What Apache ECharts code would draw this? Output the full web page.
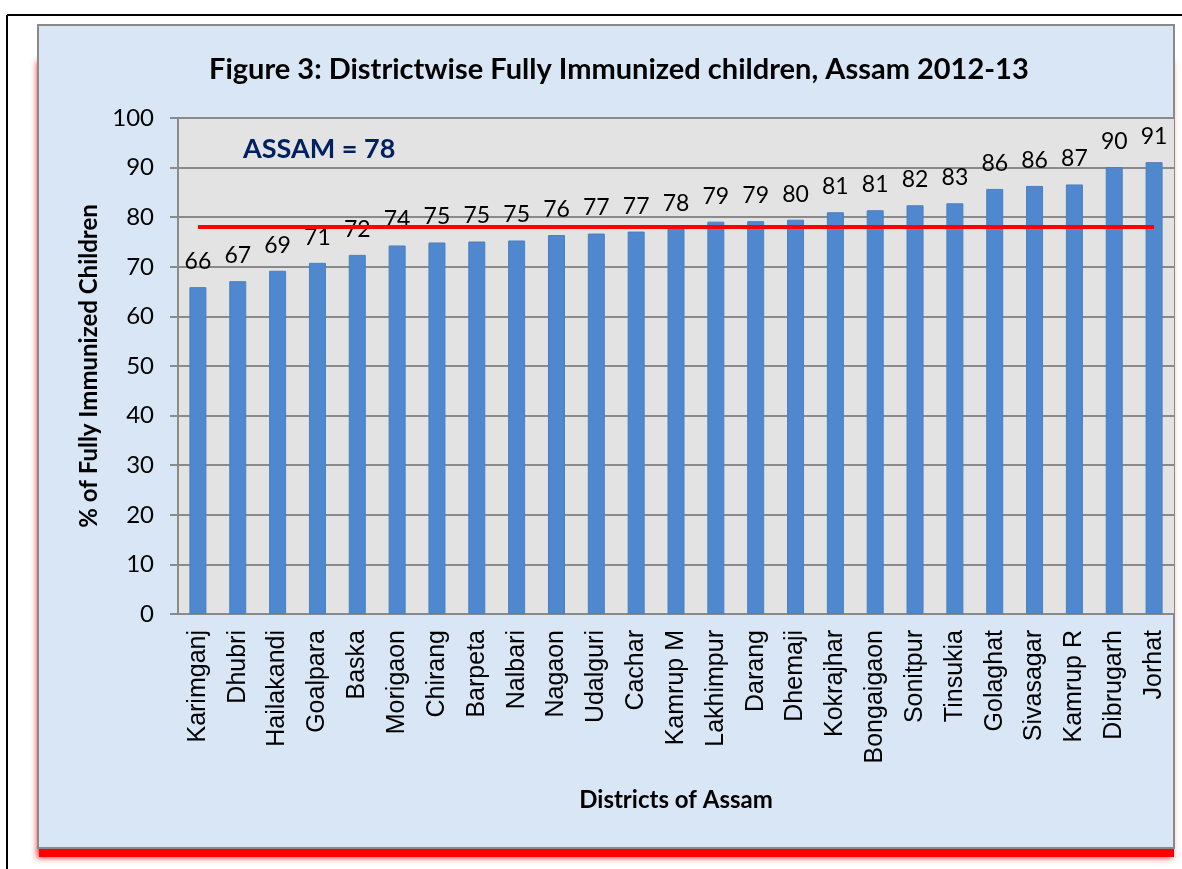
<!DOCTYPE html>
<html><head><meta charset="utf-8">
<script src="https://cdn.jsdelivr.net/npm/echarts@6/dist/echarts.min.js"></script>
<style>html,body{margin:0;padding:0;background:#ffffff}#c{width:1182px;height:869px}</style>
</head><body><div id="c"></div>
<script>
const districts = ['Karimganj','Dhubri','Hailakandi','Goalpara','Baska','Morigaon','Chirang','Barpeta','Nalbari','Nagaon','Udalguri','Cachar','Kamrup M','Lakhimpur','Darang','Dhemaji','Kokrajhar','Bongaigaon','Sonitpur','Tinsukia','Golaghat','Sivasagar','Kamrup R','Dibrugarh','Jorhat'];
const immunized = [65.9,67.1,69.2,70.8,72.4,74.3,74.9,75.1,75.3,76.4,76.7,77.1,77.7,79.1,79.2,79.5,81.0,81.4,82.4,82.8,85.7,86.3,86.6,90.1,91.1];
const assamAverage = 78;
const assamLine = districts.map(() => assamAverage);
const titleText = 'Figure 3: Districtwise Fully Immunized children, Assam 2012-13';
const yAxisTitle = '% of Fully Immunized Children';
const xAxisTitle = 'Districts of Assam';
const yMin = 0, yMax = 100, yStep = 10;

const calibri = 'Lato, "Liberation Sans", sans-serif';
const chart = echarts.init(document.getElementById('c'), null, {renderer:'canvas'});
chart.setOption({
  backgroundColor: '#ffffff',
  animation: false,
  graphic: [
    {type:'rect', z:-12, shape:{x:39,y:60,width:1135,height:797},
     style:{fill:'#ff0000', shadowColor:'rgba(255,0,0,0.8)', shadowBlur:6, shadowOffsetX:-2, shadowOffsetY:1}},
    {type:'rect', z:-10, shape:{x:38,y:25,width:1136,height:823},
     style:{fill:'#d9e6f5', stroke:'#8a8a8a', lineWidth:2}},
    {type:'line', z:-5, shape:{x1:7,y1:15,x2:1182,y2:15}, style:{stroke:'#000',lineWidth:2}},
    {type:'line', z:-5, shape:{x1:7,y1:15,x2:7,y2:869}, style:{stroke:'#000',lineWidth:2}},
    {type:'text', z:20, left:243, top:136,
     style:{text:'ASSAM = ' + assamAverage, fill:'#002060', font:'bold 27px ' + calibri}}
  ],
  title: {
    text: titleText, left: 204, top: 50,
    textStyle: {fontFamily: calibri, fontWeight:'bold', fontSize: 29, color:'#000'}
  },
  grid: {left:178, right:8, top:118, bottom:255, show:true, backgroundColor:'#e3e3e3', borderWidth:0},
  xAxis: {
    type:'category', data: districts,
    name: xAxisTitle, nameLocation:'middle', nameGap:174,
    nameTextStyle:{fontFamily:calibri, fontWeight:'bold', fontSize:24, color:'#000'},
    axisLine:{show:true, lineStyle:{color:'#8a8a8a', width:2}},
    axisTick:{show:false},
    axisLabel:{rotate:90, margin:16, fontFamily:'"Liberation Sans", Arial, sans-serif', fontSize:25, color:'#000', interval:0}
  },
  yAxis: {
    type:'value', min:yMin, max:yMax, interval:yStep,
    name: yAxisTitle, nameLocation:'middle', nameGap:77,
    nameTextStyle:{fontFamily:calibri, fontWeight:'bold', fontSize:24, color:'#000'},
    axisLine:{show:true, lineStyle:{color:'#8a8a8a', width:2}},
    axisTick:{show:true, inside:false, length:8, lineStyle:{color:'#8a8a8a', width:2}},
    axisLabel:{margin:24, fontFamily:calibri, fontSize:24, color:'#000'},
    splitLine:{show:true, lineStyle:{color:'#8a8a8a', width:2}}
  },
  series: [
    {type:'bar', data: immunized, barWidth:17,
     itemStyle:{color:'#4f88cf', borderColor:'#4a7fc0', borderWidth:1},
     label:{show:true, position:'top', distance:14, fontFamily:calibri, fontSize:23, color:'#000',
       formatter: p => Math.round(p.value)}},
    {type:'line', data: assamLine, symbol:'none', z:5,
     lineStyle:{color:'#ff0000', width:4}, silent:true}
  ]
});
</script></body></html>
